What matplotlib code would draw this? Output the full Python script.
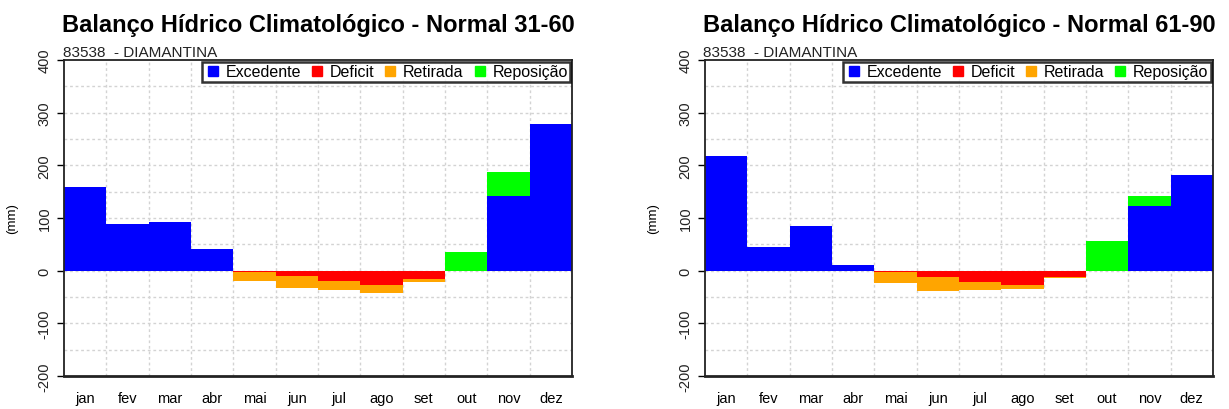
import numpy as np
import matplotlib
matplotlib.use("Agg")
import matplotlib.pyplot as plt
from matplotlib.lines import Line2D

plt.rcParams['font.family'] = ['Liberation Sans', 'DejaVu Sans']

meses = ["jan", "fev", "mar", "abr", "mai", "jun", "jul", "ago", "set", "out", "nov", "dez"]
estacao = "83538  - DIAMANTINA"

# Normal 31-60
exc_3160 = [159, 88, 92, 41, 0, 0, 0, 0, 0, 0, 142, 278]
rep_3160 = [0, 0, 0, 0, 0, 0, 0, 0, 0, 35, 46, 0]
def_3160 = [0, 0, 0, 0, 2, 11, 19, 28, 16, 0, 0, 0]
ret_3160 = [0, 0, 0, 0, 17, 22, 17, 14, 6, 0, 0, 0]

# Normal 61-90
exc_6190 = [218, 44, 85, 11, 0, 0, 0, 0, 0, 0, 122, 182]
rep_6190 = [0, 0, 0, 0, 0, 0, 0, 0, 0, 57, 20, 0]
def_6190 = [0, 0, 0, 0, 3, 12, 22, 27, 12, 0, 0, 0]
ret_6190 = [0, 0, 0, 0, 21, 26, 14, 8, 2, 0, 0, 0]

cores = {"Excedente": "#0000FF", "Deficit": "#FF0000",
         "Retirada": "#FFA500", "Reposição": "#00FF00"}


def painel(ax, titulo, exc, rep, dfc, ret):
    x = np.arange(1, 13)
    exc = np.array(exc)
    dfc = np.array(dfc)
    ax.bar(x, exc, width=1.0, color=cores["Excedente"], zorder=2)
    ax.bar(x, rep, width=1.0, bottom=exc, color=cores["Reposição"], zorder=2)
    ax.bar(x, -dfc, width=1.0, color=cores["Deficit"], zorder=2)
    ax.bar(x, -np.array(ret), width=1.0, bottom=-dfc, color=cores["Retirada"], zorder=2)

    ax.set_xlim(0.5, 12.5)
    ax.set_ylim(-200, 400)
    ax.set_xticks(x)
    ax.set_xticklabels(meses, fontsize=10.5)
    ax.tick_params(axis="x", length=0, pad=11)
    ax.set_yticks(range(-200, 401, 100))
    ax.set_yticklabels([str(v) for v in range(-200, 401, 100)], rotation=90,
                       va="center", fontsize=10.5, color="#222222")
    ax.tick_params(axis="y", length=5, width=1, pad=4)

    for v in np.arange(1.5, 12, 1):
        ax.axvline(v, color="#d3d3d3", ls=(0, (2, 2)), lw=1, zorder=1)
    for v in range(-150, 400, 50):
        ax.axhline(v, color="#d3d3d3", ls=(0, (2, 2)), lw=1, zorder=1)

    for s in ax.spines.values():
        s.set_linewidth(1.3)
        s.set_color("#222222")
    ax.spines["bottom"].set_linewidth(2)

    ax.set_ylabel("(mm)", fontsize=9.5, labelpad=14)
    ax.set_title(titulo, fontsize=17, fontweight="bold", pad=21)
    ax.text(-0.003, 1.004, estacao, transform=ax.transAxes, fontsize=11,
            ha="left", va="bottom", color="#222222")

    handles = [Line2D([], [], marker="s", ls="none", color=c, markersize=6.5)
               for c in cores.values()]
    leg = ax.legend(handles, list(cores.keys()), loc="upper right", ncol=4,
                    fontsize=11.5, frameon=True, fancybox=False, borderpad=0.15,
                    handletextpad=0.3, columnspacing=0.5, handlelength=1.0,
                    borderaxespad=0.12)
    leg.get_frame().set_edgecolor("black")
    leg.get_frame().set_linewidth(1.8)


fig = plt.figure(figsize=(12.29, 4.10), dpi=100)
ax1 = fig.add_axes([0.0521, 0.0805, 0.4133, 0.7707])
ax2 = fig.add_axes([0.5736, 0.0805, 0.4133, 0.7707])
painel(ax1, "Balanço Hídrico Climatológico - Normal 31-60", exc_3160, rep_3160, def_3160, ret_3160)
painel(ax2, "Balanço Hídrico Climatológico - Normal 61-90", exc_6190, rep_6190, def_6190, ret_6190)

fig.savefig("out.png", dpi=100)
